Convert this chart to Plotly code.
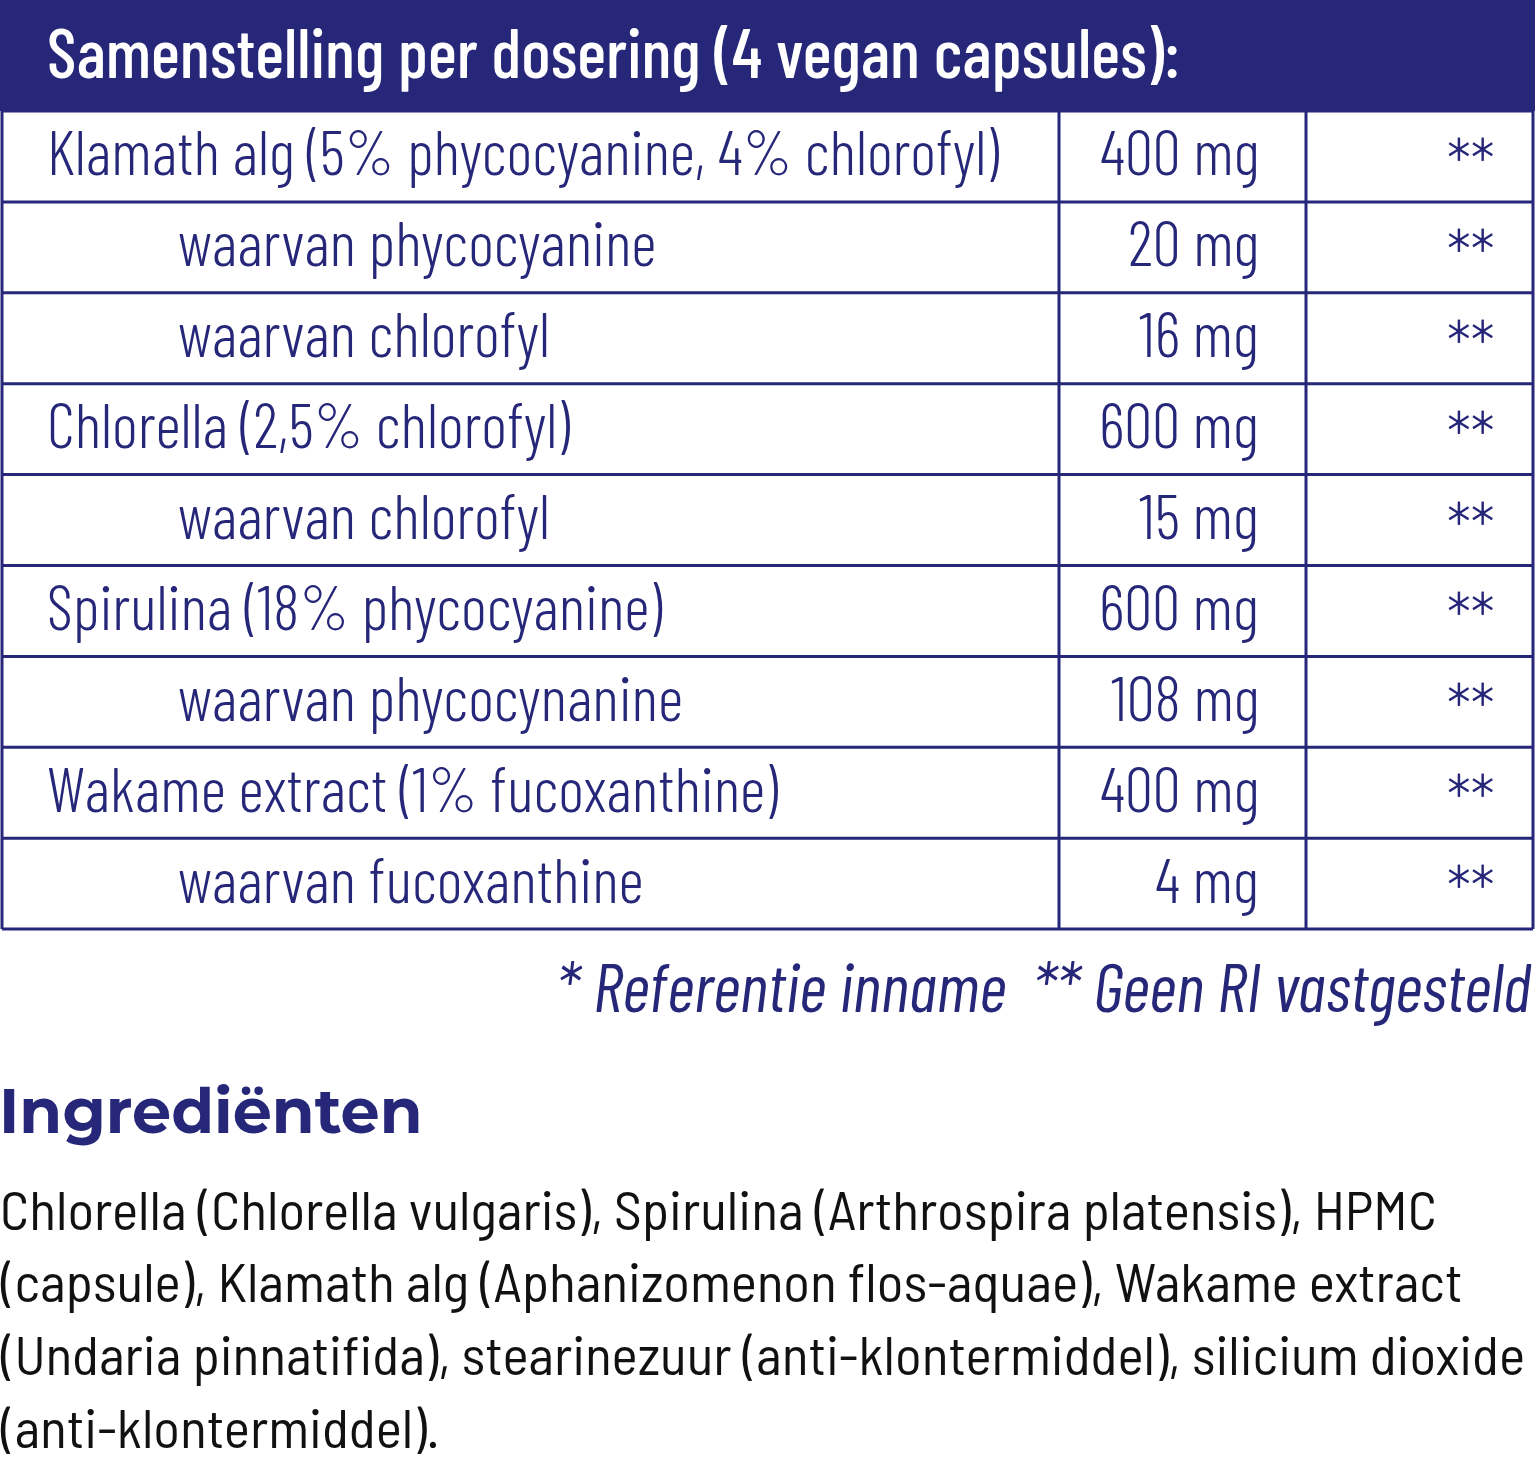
import plotly.graph_objects as go

# colours / canvas
NAVY = "#27277a"
INK = "#111111"
W, H = 1536, 1468
COND = "Barlow Condensed, Roboto Condensed, sans-serif"
SEMI = "Barlow Semi Condensed, Barlow Condensed, sans-serif"

# data
title = "Samenstelling per dosering (4 vegan capsules):"
names = ["Klamath alg (5% phycocyanine, 4% chlorofyl)",
         "waarvan phycocyanine",
         "waarvan chlorofyl",
         "Chlorella (2,5% chlorofyl)",
         "waarvan chlorofyl",
         "Spirulina (18% phycocyanine)",
         "waarvan phycocynanine",
         "Wakame extract (1% fucoxanthine)",
         "waarvan fucoxanthine"]
isSub = [False, True, True, False, True, False, True, False, True]
amounts = [400, 20, 16, 600, 15, 600, 108, 400, 4]
unit = "mg"
ri = ["**"] * 9
footnote = "* Referentie inname  ** Geen RI vastgesteld"
heading = "Ingrediënten"
ingrLines = ["Chlorella (Chlorella vulgaris), Spirulina (Arthrospira platensis), HPMC",
             "(capsule), Klamath alg (Aphanizomenon flos-aquae), Wakame extract",
             "(Undaria pinnatifida), stearinezuur (anti-klontermiddel), silicium dioxide",
             "(anti-klontermiddel)."]

# table geometry
top = 111
rowH = 90.9
xL, xR = 2, 1533
col1, col2 = 1059, 1306

fig = go.Figure()

# header band
fig.add_shape(type="rect", x0=0, x1=1535, y0=0, y1=top, fillcolor=NAVY, line_width=0, layer="below")
fig.add_annotation(x=45, y=50, text=title, xanchor="left", yanchor="middle", showarrow=False,
                   font={"family": COND, "size": 69, "color": "#ffffff", "weight": 500})

# grid lines
bottom = top + rowH*len(names)
for i in range(len(names)+1):
    y = top + rowH*i
    fig.add_shape(type="line", x0=xL, x1=xR, y0=y, y1=y, line={"color": NAVY, "width": 3})
for x in [xL, col1, col2, xR]:
    fig.add_shape(type="line", x0=x, x1=x, y0=top, y1=bottom, line={"color": NAVY, "width": 3})

# rows
for i, (nm, sb, amt, r) in enumerate(zip(names, isSub, amounts, ri)):
    yc = top + rowH*(i+0.5)
    fig.add_annotation(x=176 if sb else 45, y=yc-6, text=nm, xanchor="left", yanchor="middle",
                       showarrow=False, font={"family": COND, "size": 63, "color": NAVY, "weight": 300})
    fig.add_annotation(x=1261, y=yc-6, text="%d %s" % (amt, unit), xanchor="right", yanchor="middle",
                       showarrow=False, font={"family": COND, "size": 63, "color": NAVY, "weight": 300})
    fig.add_annotation(x=1497, y=yc+4, text=r, xanchor="right", yanchor="middle",
                       showarrow=False, font={"family": COND, "size": 66, "color": NAVY, "weight": 300})

# footnote
fig.add_annotation(x=1534, y=985, text=footnote, xanchor="right", yanchor="middle", showarrow=False,
                   font={"family": COND, "size": 68, "color": NAVY, "style": "italic"})

# ingredients
fig.add_annotation(x=0, xshift=-3, y=1111, text=heading, xanchor="left", yanchor="middle", showarrow=False,
                   font={"family": "Montserrat, Inter, sans-serif", "size": 62, "color": NAVY, "weight": 700})
for i, ln in enumerate(ingrLines):
    fig.add_annotation(x=0, xshift=-2, y=1207 + 72.7*i, text=ln, xanchor="left", yanchor="middle",
                       showarrow=False, font={"family": SEMI, "size": 55.5, "color": INK})

fig.update_xaxes(range=[0, W], visible=False, fixedrange=True)
fig.update_yaxes(range=[H, 0], visible=False, fixedrange=True)
fig.update_layout(width=W, height=H, margin={"l": 0, "r": 0, "t": 0, "b": 0},
                  plot_bgcolor="#fff", paper_bgcolor="#fff", showlegend=False)
fig.write_html("out.html", config={"displayModeBar": False},
               post_script="document.body.style.margin='0';")
